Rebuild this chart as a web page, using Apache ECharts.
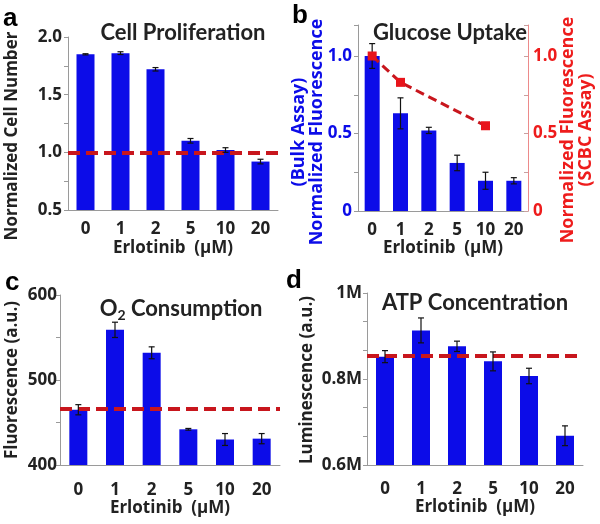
<!DOCTYPE html>
<html>
<head>
<meta charset="utf-8">
<script src="https://cdn.jsdelivr.net/npm/echarts@6/dist/echarts.min.js"></script>
<style>
  html, body { margin: 0; padding: 0; background: #fff; }
  #main { width: 600px; height: 524px; }
</style>
</head>
<body>
<div id="main"></div>
<script>
// erlotinib doses, shared by all four panels
const doses = ['0', '1', '2', '5', '10', '20'];

// a - cell proliferation
const cellNumber = [1.85, 1.86, 1.72, 1.10, 1.02, 0.92];
const cellNumberErr = [0.005, 0.012, 0.015, 0.02, 0.02, 0.02];
const cellBaseline = 1.0;

// b - glucose uptake (bulk bars + SCBC points)
const glucoseBulk = [1.0, 0.63, 0.52, 0.31, 0.195, 0.195];
const glucoseBulkErr = [0.08, 0.1, 0.02, 0.05, 0.055, 0.02];
const glucoseScbc = [1.0, 0.83, null, null, 0.55, null];

// c - O2 consumption
const oxygen = [465, 559, 532, 442, 430, 431];
const oxygenErr = [6, 9, 7, 1, 7, 6];
const oxygenBaseline = 466;

// d - ATP concentration
const atp = [852000, 913000, 876000, 841000, 807000, 668000];
const atpErr = [14000, 29000, 12000, 22000, 18000, 23000];
const atpBaseline = 854000;

const FONT = 'Open Sans';
const TITLE_FONT = 'Lato';
const BLUE = '#0c0ce8';
const RED = '#c8161d';
const AXIS_GREY = '#9a9a9a';

const chart = echarts.init(document.getElementById('main'));

function errData(vals, errs) {
  return vals.map((v, i) => [i, v - errs[i], v + errs[i]]);
}

function errSeries(xi, yi, vals, errs) {
  return {
    type: 'custom',
    xAxisIndex: xi,
    yAxisIndex: yi,
    z: 5,
    data: errData(vals, errs),
    renderItem: function (params, api) {
      const lo = api.coord([api.value(0), api.value(1)]);
      const hi = api.coord([api.value(0), api.value(2)]);
      const w = 3;
      const st = { stroke: '#111', lineWidth: 1.2 };
      return {
        type: 'group',
        children: [
          { type: 'line', shape: { x1: lo[0], y1: lo[1], x2: hi[0], y2: hi[1] }, style: st },
          { type: 'line', shape: { x1: hi[0] - w, y1: hi[1], x2: hi[0] + w, y2: hi[1] }, style: st },
          { type: 'line', shape: { x1: lo[0] - w, y1: lo[1], x2: lo[0] + w, y2: lo[1] }, style: st }
        ]
      };
    }
  };
}

function catAxis(idx, gap, labelMargin) {
  return {
    type: 'category',
    gridIndex: idx,
    data: doses,
    name: 'Erlotinib  (μM)',
    nameLocation: 'middle',
    nameGap: gap,
    nameTextStyle: { fontFamily: FONT, fontWeight: 'bold', fontSize: 17, color: '#222' },
    axisLine: { lineStyle: { color: AXIS_GREY, width: 1 } },
    axisTick: { alignWithLabel: true, length: 4, lineStyle: { color: AXIS_GREY } },
    axisLabel: { fontFamily: FONT, fontWeight: 'bold', fontSize: 17, color: '#222', margin: labelMargin }
  };
}

function valAxis(idx, opts) {
  return Object.assign({
    type: 'value',
    gridIndex: idx,
    splitLine: { show: false },
    axisLine: { show: true, lineStyle: { color: AXIS_GREY, width: 1 } },
    axisTick: { show: true, length: 4, lineStyle: { color: AXIS_GREY } }
  }, opts);
}

function near(v, step) {
  const r = v / step;
  return Math.abs(r - Math.round(r)) < 0.01;
}

function baseline(value) {
  return {
    silent: true,
    symbol: 'none',
    label: { show: false },
    lineStyle: { color: RED, type: [12, 6], width: 4 },
    data: [{ yAxis: value }]
  };
}

// rotated y-axis titles, placed by their centre
function yTitle(text, x, y, size, color) {
  return {
    type: 'text', x: x, y: y, rotation: Math.PI / 2,
    style: {
      text: text, fill: color, align: 'center', verticalAlign: 'middle',
      font: 'bold ' + size + 'px "' + FONT + '"', lineHeight: 18
    }
  };
}

const tickLabel = { fontFamily: FONT, fontWeight: 'bold', fontSize: 17, color: '#222' };
const titleText = { fontFamily: TITLE_FONT, fontWeight: 'bold', fontSize: 22, color: '#222' };
const letterFont = 'bold 26px "Liberation Sans"';

const option = {
  animation: false,
  backgroundColor: '#fff',
  title: [
    { text: 'Cell Proliferation', left: 178, top: 17, textAlign: 'center', textStyle: titleText },
    { text: 'Glucose Uptake', left: 445, top: 17, textAlign: 'center', textStyle: titleText },
    { text: 'O{s|2} Consumption', left: 176, top: 290, textAlign: 'center',
      textStyle: Object.assign({}, titleText, {
        rich: { s: { fontFamily: TITLE_FONT, fontWeight: 'bold', fontSize: 14, color: '#222', padding: [13, 0, 0, 0] } } }) },
    { text: 'ATP Concentration', left: 470, top: 287, textAlign: 'center', textStyle: titleText }
  ],
  graphic: [
    { type: 'text', left: 3, top: 6, style: { text: 'a', font: letterFont, fill: '#000' } },
    { type: 'text', left: 292, top: 3, style: { text: 'b', font: letterFont, fill: '#000' } },
    { type: 'text', left: 5, top: 270, style: { text: 'c', font: letterFont, fill: '#000' } },
    { type: 'text', left: 286, top: 268, style: { text: 'd', font: letterFont, fill: '#000' } },
    yTitle('Normalized Cell Number', 12, 136, 17, '#222'),
    yTitle('(Bulk Assay)\nNormalized Fluorescence', 308, 132, 18, BLUE),
    yTitle('Normalized Fluorescence\n(SCBC Assay)', 577, 130, 18, '#ee1c1c'),
    yTitle('Fluorescence (a.u.)', 12, 380, 17, '#222'),
    yTitle('Luminescence (a.u.)', 307, 380, 17, '#222')
  ],
  grid: [
    { left: 68, top: 37, width: 210, height: 173 },
    { left: 358, top: 25, width: 170, height: 186 },
    { left: 60, top: 295, width: 220, height: 170 },
    { left: 367, top: 293, width: 216, height: 172 }
  ],
  xAxis: [
    catAxis(0, 30, 11),
    catAxis(1, 28, 11),
    catAxis(2, 33, 17),
    catAxis(3, 33, 16)
  ],
  yAxis: [
    valAxis(0, {
      min: 0.5, max: 2.0, interval: 0.25,
      axisLabel: Object.assign({ margin: 6, formatter: v => near(v, 0.5) ? v.toFixed(1) : '' }, tickLabel)
    }),
    valAxis(1, {
      min: 0, max: 1.2, interval: 0.25,
      axisLabel: Object.assign({}, tickLabel, { color: BLUE, margin: 6,
        formatter: v => near(v, 0.5) && v <= 1.01 ? (v === 0 ? '0' : v.toFixed(1)) : '' })
    }),
    valAxis(1, {
      position: 'right',
      min: 0, max: 1.2, interval: 0.25,
      axisLine: { show: true, lineStyle: { color: '#ec8a8a', width: 1 } },
      axisTick: { show: true, inside: true, length: 4, lineStyle: { color: '#c9a0a0' } },
      axisLabel: Object.assign({}, tickLabel, { color: '#ee1c1c', margin: 5,
        formatter: v => near(v, 0.5) && v <= 1.01 ? (v === 0 ? '0' : v.toFixed(1)) : '' })
    }),
    valAxis(2, {
      min: 400, max: 600, interval: 50,
      axisLabel: Object.assign({ margin: 3, formatter: v => near(v, 100) ? String(v) : '' }, tickLabel)
    }),
    valAxis(3, {
      min: 600000, max: 1000000, interval: 200000 / 3,
      axisLabel: Object.assign({ margin: 5,
        formatter: v => near(v, 200000) ? (Math.round(v / 100000) / 10) + 'M' : '' }, tickLabel)
    })
  ],
  series: [
    { type: 'bar', xAxisIndex: 0, yAxisIndex: 0, data: cellNumber, barWidth: 18,
      itemStyle: { color: BLUE }, markLine: baseline(cellBaseline) },
    errSeries(0, 0, cellNumber, cellNumberErr),

    { type: 'bar', xAxisIndex: 1, yAxisIndex: 1, data: glucoseBulk, barWidth: 15,
      itemStyle: { color: BLUE } },
    errSeries(1, 1, glucoseBulk, glucoseBulkErr),
    { type: 'line', xAxisIndex: 1, yAxisIndex: 2, data: glucoseScbc, connectNulls: true, z: 6,
      symbol: 'rect', symbolSize: 9, itemStyle: { color: '#e8141b' },
      lineStyle: { color: RED, type: [9, 5], width: 3 } },

    { type: 'bar', xAxisIndex: 2, yAxisIndex: 3, data: oxygen, barWidth: 18,
      itemStyle: { color: BLUE }, markLine: baseline(oxygenBaseline) },
    errSeries(2, 3, oxygen, oxygenErr),

    { type: 'bar', xAxisIndex: 3, yAxisIndex: 4, data: atp, barWidth: 18,
      itemStyle: { color: BLUE }, markLine: baseline(atpBaseline) },
    errSeries(3, 4, atp, atpErr)
  ]
};

chart.setOption(option);
</script>
</body>
</html>
